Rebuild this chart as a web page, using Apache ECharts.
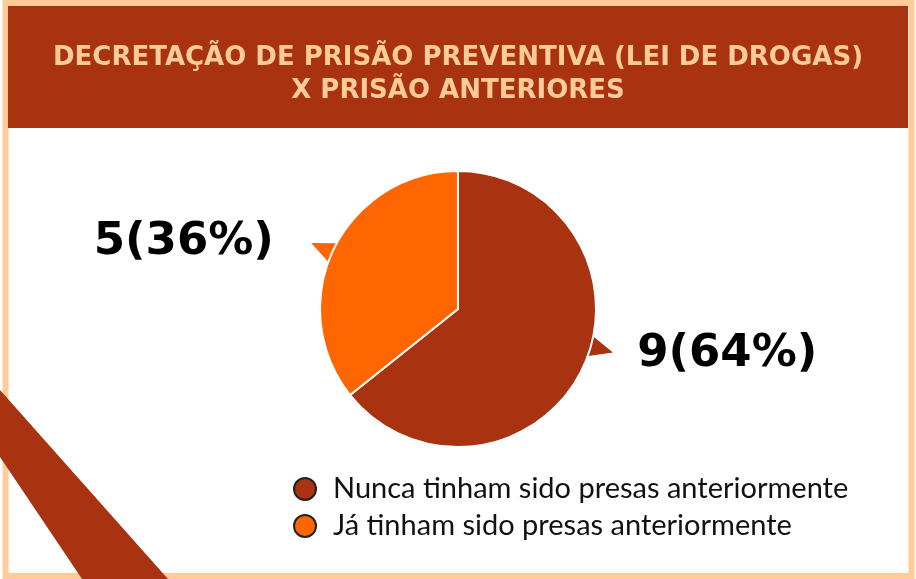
<!DOCTYPE html>
<html>
<head>
<meta charset="utf-8">
<script src="https://cdn.jsdelivr.net/npm/echarts@6/dist/echarts.min.js"></script>
<style>
html, body { margin: 0; padding: 0; background: #fff; }
#chart { width: 916px; height: 579px; }
</style>
</head>
<body>
<div id="chart"></div>
<script>
var titleText = "DECRETAÇÃO DE PRISÃO PREVENTIVA (LEI DE DROGAS)\nX PRISÃO ANTERIORES";
var categories = ["Nunca tinham sido presas anteriormente", "Já tinham sido presas anteriormente"];
var values = [9, 5];
var colors = ["#A93211", "#FF6600"];

var peach = "#FFCC99";
var darkRed = "#A93211";

// small angle shift (deg) for the callout pointers, and label nudges
var pointerShift = [-10, -1.5];
var labelShift = [[0, -12], [-2.5, 1.5]];

var chart = echarts.init(document.getElementById("chart"));

var option = {
    animation: false,
    title: {
        text: titleText,
        left: "center",
        top: 37,
        textStyle: {
            color: peach,
            fontFamily: "DejaVu Sans",
            fontWeight: "bold",
            fontSize: 26,
            lineHeight: 33
        }
    },
    legend: {
        orient: "vertical",
        left: 293,
        top: 474,
        padding: 0,
        itemWidth: 40,
        itemHeight: 22,
        itemGap: 7,
        icon: "circle",
        itemStyle: { borderColor: "#222", borderWidth: 2 },
        textStyle: { fontFamily: "Lato", fontSize: 29, lineHeight: 30, color: "#111", padding: [0, 0, 0, 3] },
        data: categories
    },
    series: [{
        type: "pie",
        center: [458, 309],
        radius: 138,
        startAngle: 90,
        clockwise: true,
        percentPrecision: 0,
        itemStyle: { borderColor: "#fff", borderWidth: 2 },
        label: {
            position: "outside",
            formatter: "{c}({d}%)",
            fontFamily: "DejaVu Sans",
            fontWeight: "bold",
            fontSize: 45,
            color: "#000"
        },
        labelLine: { show: false, length: 22, length2: 30 },
        labelLayout: function (p) {
            return { dx: labelShift[p.dataIndex][0], dy: labelShift[p.dataIndex][1] };
        },
        data: categories.map(function (c, i) {
            return { name: c, value: values[i], itemStyle: { color: colors[i] } };
        })
    }]
};

chart.setOption(option);

// decorations + callout pointers built from the pie's own layout
var graphics = [
    { id: "border", type: "rect", z: 0, shape: { x: 5.5, y: 3, width: 906, height: 573 },
      style: { fill: "#fff", stroke: peach, lineWidth: 6 } },
    { id: "header", type: "rect", z: 1, shape: { x: 8, y: 6, width: 900, height: 122 },
      style: { fill: darkRed } },
    { id: "stripe", type: "polygon", z: 1,
      shape: { points: [[0, 390], [168, 579], [82, 579], [0, 457]] },
      style: { fill: darkRed } }
];

var pieData = chart.getModel().getSeriesByIndex(0).getData();
values.forEach(function (v, i) {
    var l = pieData.getItemLayout(i);
    var mid = (l.startAngle + l.endAngle) / 2 + pointerShift[i] * Math.PI / 180;
    var half = 4.5 * Math.PI / 180;
    var pt = function (a, r) { return [l.cx + r * Math.cos(a), l.cy + r * Math.sin(a)]; };
    graphics.push({
        id: "ptr" + i, type: "polygon", z: 1,
        shape: { points: [pt(mid - half, l.r - 1), pt(mid, l.r + 23), pt(mid + half, l.r - 1)] },
        style: { fill: colors[i] }
    });
});

chart.setOption({ graphic: graphics });
</script>
</body>
</html>
